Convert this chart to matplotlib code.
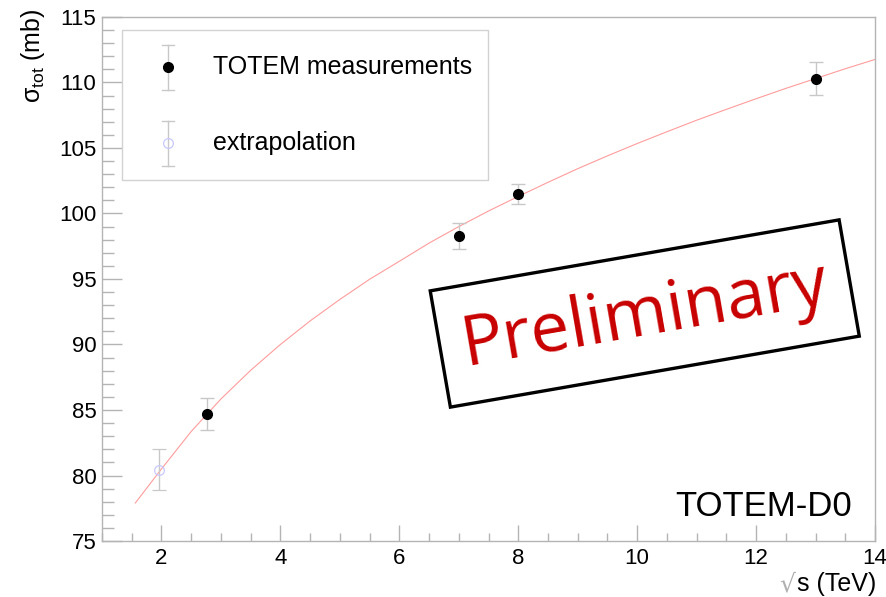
import numpy as np
import matplotlib
matplotlib.use("Agg")
import matplotlib.pyplot as plt
from matplotlib.lines import Line2D
from matplotlib.patches import Rectangle, Polygon
from matplotlib.ticker import MultipleLocator

plt.rcParams['font.family'] = ['Liberation Sans', 'DejaVu Sans']
plt.rcParams['mathtext.fontset'] = 'custom'
plt.rcParams['mathtext.rm'] = 'Liberation Sans'
plt.rcParams['mathtext.it'] = 'Liberation Sans'
plt.rcParams['mathtext.bf'] = 'Liberation Sans:bold'

# TOTEM measurements: sqrt(s) [TeV], sigma_tot [mb], uncertainty [mb]
totem_energy = [2.76, 7.0, 8.0, 13.0]
totem_sigma = [84.7, 98.3, 101.5, 110.3]
totem_err = [1.2, 1.0, 0.76, 1.25]

# Extrapolated value
extrap_energy = [1.96]
extrap_sigma = [80.45]
extrap_err = [1.56]

# Fit curve sampled along sqrt(s)
fit_energy = [1.56, 2.0, 2.5, 3.0, 3.5, 4.0, 4.5, 5.0, 5.5, 6.0, 6.5, 7.0, 7.5, 8.0,
              8.5, 9.0, 9.5, 10.0, 10.5, 11.0, 11.5, 12.0, 12.5, 13.0, 13.5, 14.0]
fit_sigma = [77.9, 80.5, 83.36, 85.84, 88.03, 90.0, 91.8, 93.44, 94.98, 96.35, 97.74,
             99.0, 100.19, 101.3, 102.38, 103.42, 104.4, 105.34, 106.24, 107.12,
             107.95, 108.76, 109.55, 110.3, 111.05, 111.76]

W, H = 886, 597
fig = plt.figure(figsize=(W / 100, H / 100), dpi=100)
ax = fig.add_axes([102 / W, 1 - 541 / H, (875 - 102) / W, (541 - 17) / H])

axis_grey = '#b4b4b4'
err_grey = '#c8c8c8'

ax.plot(fit_energy, fit_sigma, color='#ff9c9c', lw=0.8, zorder=2)
ax.errorbar(totem_energy, totem_sigma, yerr=totem_err, fmt='o', color='black',
            ms=7, ecolor=err_grey, elinewidth=1.0, capsize=5, capthick=1.0, zorder=3)
ax.errorbar(extrap_energy, extrap_sigma, yerr=extrap_err, fmt='o', mfc='none',
            mec='#c8c8ff', mew=0.9, ms=7, ecolor=err_grey, elinewidth=1.0,
            capsize=5, capthick=1.0, zorder=3)

ax.set_xlim(1, 14)
ax.set_ylim(75, 115)
ax.xaxis.set_major_locator(MultipleLocator(2))
ax.xaxis.set_minor_locator(MultipleLocator(0.5))
ax.yaxis.set_major_locator(MultipleLocator(5))
ax.yaxis.set_minor_locator(MultipleLocator(1))
ax.tick_params(axis='both', which='both', direction='in', color=axis_grey,
               labelsize=16, width=1)
ax.tick_params(axis='y', which='major', length=14.4, pad=4)
ax.tick_params(axis='y', which='minor', length=8.3)
ax.tick_params(axis='x', which='major', length=11.5, pad=5)
ax.tick_params(axis='x', which='minor', length=5.8)
for sp in ax.spines.values():
    sp.set_color(axis_grey)
    sp.set_linewidth(1)

# axis titles
fig.text(33 / W, 1 - 9 / H, r'$\sigma_{\rm tot}$ (mb)', rotation=90,
         ha='center', va='top', fontsize=18)
fig.text(876 / W, 1 - 591 / H, 's (TeV)', ha='right', va='baseline', fontsize=18)
fig.text(795 / W, 1 - 591 / H, '\u221a', ha='right', va='baseline', fontsize=18,
         color='#b0b0b0', family='DejaVu Sans')

# legend box
def px(x, y):
    return x / W, 1 - y / H

lx0, ly0 = px(122, 180)
lx1, ly1 = px(488, 30)
fig.patches.append(Rectangle((lx0, ly0), lx1 - lx0, ly1 - ly0, transform=fig.transFigure,
                             fill=False, edgecolor='#d2d2d2', lw=1))
for ycen, label, filled in [(67, 'TOTEM measurements', True), (143, 'extrapolation', False)]:
    xm = 168
    fig.add_artist(Line2D([xm / W, xm / W], [1 - (ycen - 22.5) / H, 1 - (ycen + 22.5) / H],
                          transform=fig.transFigure, color=err_grey, lw=1))
    for yc in (ycen - 22.5, ycen + 22.5):
        fig.add_artist(Line2D([(xm - 6) / W, (xm + 6) / W], [1 - yc / H, 1 - yc / H],
                              transform=fig.transFigure, color=err_grey, lw=1))
    if filled:
        fig.add_artist(Line2D([xm / W], [1 - ycen / H], transform=fig.transFigure,
                              marker='o', ms=7, color='black', ls='none'))
    else:
        fig.add_artist(Line2D([xm / W], [1 - ycen / H], transform=fig.transFigure,
                              marker='o', ms=7, mfc='none', mec='#c8c8ff', mew=0.9, ls='none'))
    fig.text(213 / W, 1 - ycen / H, label, ha='left', va='center', fontsize=18)

# experiment tag
fig.text(675 / W, 1 - 516 / H, 'TOTEM-D0', ha='left', va='baseline', fontsize=25)

# rotated "Preliminary" stamp
cx, cy = 644.75, 313.5
bw, bh = 415.0, 118.0
ang = np.deg2rad(9.85)
c, s = np.cos(ang), np.sin(ang)
corners = []
for dx, dy in [(-bw / 2, -bh / 2), (bw / 2, -bh / 2), (bw / 2, bh / 2), (-bw / 2, bh / 2)]:
    rx = dx * c - dy * s
    ry = dx * s + dy * c
    corners.append(((cx + rx) / W, (H - cy + ry) / H))
fig.patches.append(Polygon(corners, closed=True, fill=False, edgecolor='black', lw=2.4,
                           transform=fig.transFigure, joinstyle='miter'))
fig.text(cx / W, 1 - (cy + 2) / H, 'Preliminary', rotation=9.85, rotation_mode='anchor',
         ha='center', va='center', fontsize=50, color='#c80000', family='Open Sans')

fig.savefig('out.png', dpi=100)
